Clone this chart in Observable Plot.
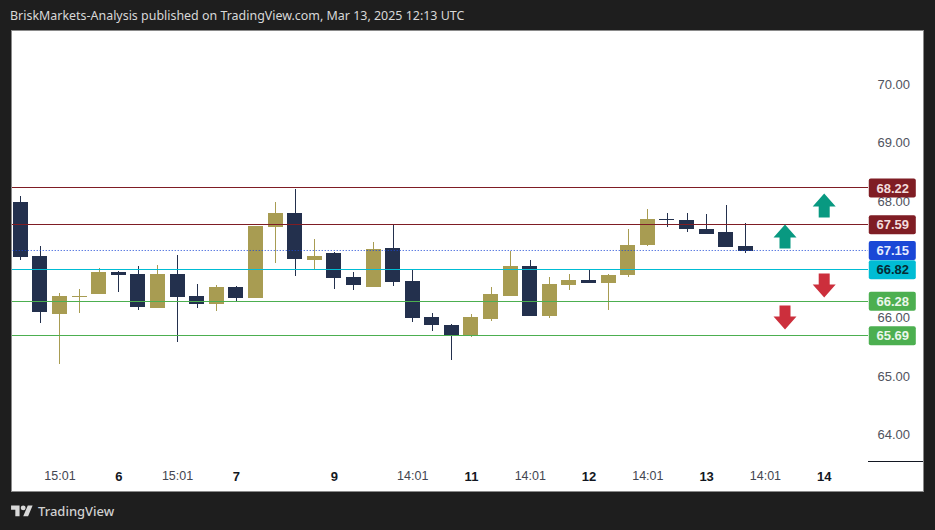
<!DOCTYPE html>
<html>
<head>
<meta charset="utf-8">
<script src="https://cdn.jsdelivr.net/npm/d3@7"></script>
<script src="https://cdn.jsdelivr.net/npm/@observablehq/plot@0.6"></script>
<style>
  html, body { margin: 0; padding: 0; background: #1e1e1e; width: 935px; height: 530px; overflow: hidden; }
  #title { position: absolute; left: 10px; top: 7px; color: #d8d8d8; font: 12.45px "Noto Sans", sans-serif; white-space: nowrap; }
  #panel { position: absolute; left: 11px; top: 30px; width: 911px; height: 460px; background: #fff; border: 1px solid #8a8a8a; }
  #panel svg { display: block; }
  #brand { position: absolute; left: 11px; top: 502px; color: #d0d0d0; font: 500 13px "Noto Sans", sans-serif; display: flex; align-items: center; gap: 5px; }
</style>
</head>
<body>
<div id="title">BriskMarkets-Analysis published on TradingView.com, Mar 13, 2025 12:13 UTC</div>
<div id="panel"></div>
<div id="brand"><svg width="22" height="17" viewBox="0 0 36 28" fill="#d8d8d8"><path d="M14 22H7V11H0V4h14v18zM28 22h-8l7.5-18h8L28 22z"/><circle cx="20" cy="8" r="4"/></svg><span>TradingView</span></div>
<script>
const opens = [67.980,67.056,66.063,66.354,66.405,66.782,66.748,66.166,66.748,66.371,66.234,66.525,66.337,67.552,67.792,66.987,67.107,66.696,66.525,67.193,66.628,66.012,65.875,65.686,65.977,66.371,66.885,66.029,66.559,66.645,66.594,66.731,67.244,67.689,67.672,67.518,67.467,67.227];
const highs = [68.083,67.227,66.422,66.491,66.850,66.799,66.885,66.902,67.073,66.577,66.559,66.542,67.569,67.980,68.203,67.347,67.124,66.782,67.295,67.587,66.833,66.080,65.892,66.063,66.525,67.141,66.987,66.696,66.748,66.833,66.748,67.518,67.860,67.792,67.792,67.775,67.929,67.621];
const lows = [66.987,65.909,65.207,66.080,66.405,66.440,66.131,66.166,65.584,66.166,66.114,66.286,66.337,66.936,66.713,66.833,66.491,66.474,66.525,66.542,65.926,65.772,65.275,65.669,65.943,66.371,66.029,65.995,66.474,66.594,66.131,66.696,67.227,67.552,67.467,67.432,67.210,67.107];
const closes = [67.039,66.097,66.371,66.371,66.782,66.731,66.183,66.748,66.354,66.234,66.525,66.337,67.569,67.792,67.004,67.056,66.679,66.559,67.176,66.611,65.995,65.875,65.686,66.012,66.405,66.885,66.029,66.577,66.645,66.594,66.731,67.244,67.689,67.672,67.518,67.432,67.210,67.141];

const timeTicks = [2, 8, 20, 26, 32, 38];
const timeLabels = ["15:01", "15:01", "14:01", "14:01", "14:01", "14:01"];
const dayTicks = [5, 11, 16, 23, 29, 35, 41];
const dayLabels = ["6", "7", "9", "11", "12", "13", "14"];

const priceTicks = [64, 65, 66, 68, 69, 70];

const levelValues = [68.22, 67.59, 67.15, 66.82, 66.28, 65.69];
const levelColors = ["#7f1d24", "#7f1d24", "#1a47d6", "#00bcd4", "#4caf50", "#4caf50"];
const levelText = ["#f3dcdc", "#f3dcdc", "#e6ecff", "#062b33", "#eaf6ea", "#eaf6ea"];
const dottedLevel = 67.15;

const upArrowX = [39, 41];
const upArrowY = [67.40, 67.93];
const downArrowX = [41, 39];
const downArrowY = [66.56, 66.01];

const axisBoundary = 63.54;

const candles = opens.map((o, i) => ({i, open: o, high: highs[i], low: lows[i], close: closes[i], up: closes[i] >= o}));
const levels = levelValues.map((v, k) => ({v, color: levelColors[k], text: levelText[k]}));
const pair = (xs, ys) => xs.map((x, k) => ({x, y: ys[k]}));

const arrowUp = {draw(c) {
  c.moveTo(0, -12); c.lineTo(11.5, 1); c.lineTo(5.5, 1); c.lineTo(5.5, 12);
  c.lineTo(-5.5, 12); c.lineTo(-5.5, 1); c.lineTo(-11.5, 1); c.closePath();
}};
const arrowDown = {draw(c) {
  c.moveTo(0, 12); c.lineTo(11.5, -1); c.lineTo(5.5, -1); c.lineTo(5.5, -12);
  c.lineTo(-5.5, -12); c.lineTo(-5.5, -1); c.lineTo(-11.5, -1); c.closePath();
}};

const candleColor = d => d.up ? "#a89c52" : "#23304d";
const priceEdge = 43.26, panelEdge = 47, badgeL = 43.3, badgeR = 45.7, badgeC = 44.5;

const chart = Plot.plot({
  width: 911,
  height: 460,
  marginLeft: 0,
  marginTop: 0,
  marginRight: 46,
  marginBottom: 20,
  style: {background: "#fff", fontFamily: "'Liberation Sans', sans-serif", fontSize: "13px", overflow: "hidden"},
  x: {type: "linear", domain: [0, 41], range: [8.3, 811.7], axis: null},
  y: {domain: [64, 70], range: [403.5, 53], axis: null},
  marks: [
    Plot.axisX({ticks: timeTicks, tickFormat: d => timeLabels[timeTicks.indexOf(d)], tickSize: 0, tickPadding: 0, fill: "#434651", fontSize: 12.5, marginBottom: 20, label: null}),
    Plot.axisX({ticks: dayTicks, tickFormat: d => dayLabels[dayTicks.indexOf(d)], tickSize: 0, tickPadding: 0, fill: "#131722", fontSize: 13, fontWeight: 600, marginBottom: 20, label: null}),
    Plot.axisY({anchor: "right", ticks: priceTicks, tickFormat: d3.format(".2f"), tickSize: 0, tickPadding: 0, fill: "#50535e", fontSize: 13, label: null}),
    Plot.ruleX(candles, {x: "i", y1: "low", y2: "high", stroke: candleColor, strokeWidth: 1, shapeRendering: "crispEdges"}),
    Plot.rect(candles, {x1: d => d.i - 0.383, x2: d => d.i + 0.383, y1: "open", y2: "close", fill: candleColor, shapeRendering: "crispEdges"}),
    Plot.ruleY(levels.filter(d => d.v !== dottedLevel), {y: "v", x1: -1, x2: priceEdge, dy: -0.7, stroke: "color", strokeWidth: 1, shapeRendering: "crispEdges"}),
    Plot.ruleY(levels.filter(d => d.v === dottedLevel), {y: "v", x1: -1, x2: priceEdge, dy: -0.5, stroke: "color", strokeWidth: 1, strokeDasharray: "1,2"}),
    Plot.ruleY([axisBoundary], {x1: priceEdge, x2: panelEdge, stroke: "#131722", strokeWidth: 1, shapeRendering: "crispEdges"}),
    Plot.dot(pair(upArrowX, upArrowY), {x: "x", y: "y", symbol: arrowUp, fill: "#089981", stroke: "none"}),
    Plot.dot(pair(downArrowX, downArrowY), {x: "x", y: "y", symbol: arrowDown, fill: "#cc2f3c", stroke: "none"}),
    Plot.rect(levels, {x1: badgeL, x2: badgeR, y1: "v", y2: "v", insetTop: -9.5, insetBottom: -9.5, fill: "color", r: 2}),
    Plot.text(levels, {x: badgeC, y: "v", text: d => d.v.toFixed(2), fill: "text", fontSize: 13, fontWeight: 600})
  ]
});
document.getElementById("panel").appendChild(chart);
</script>
</body>
</html>
